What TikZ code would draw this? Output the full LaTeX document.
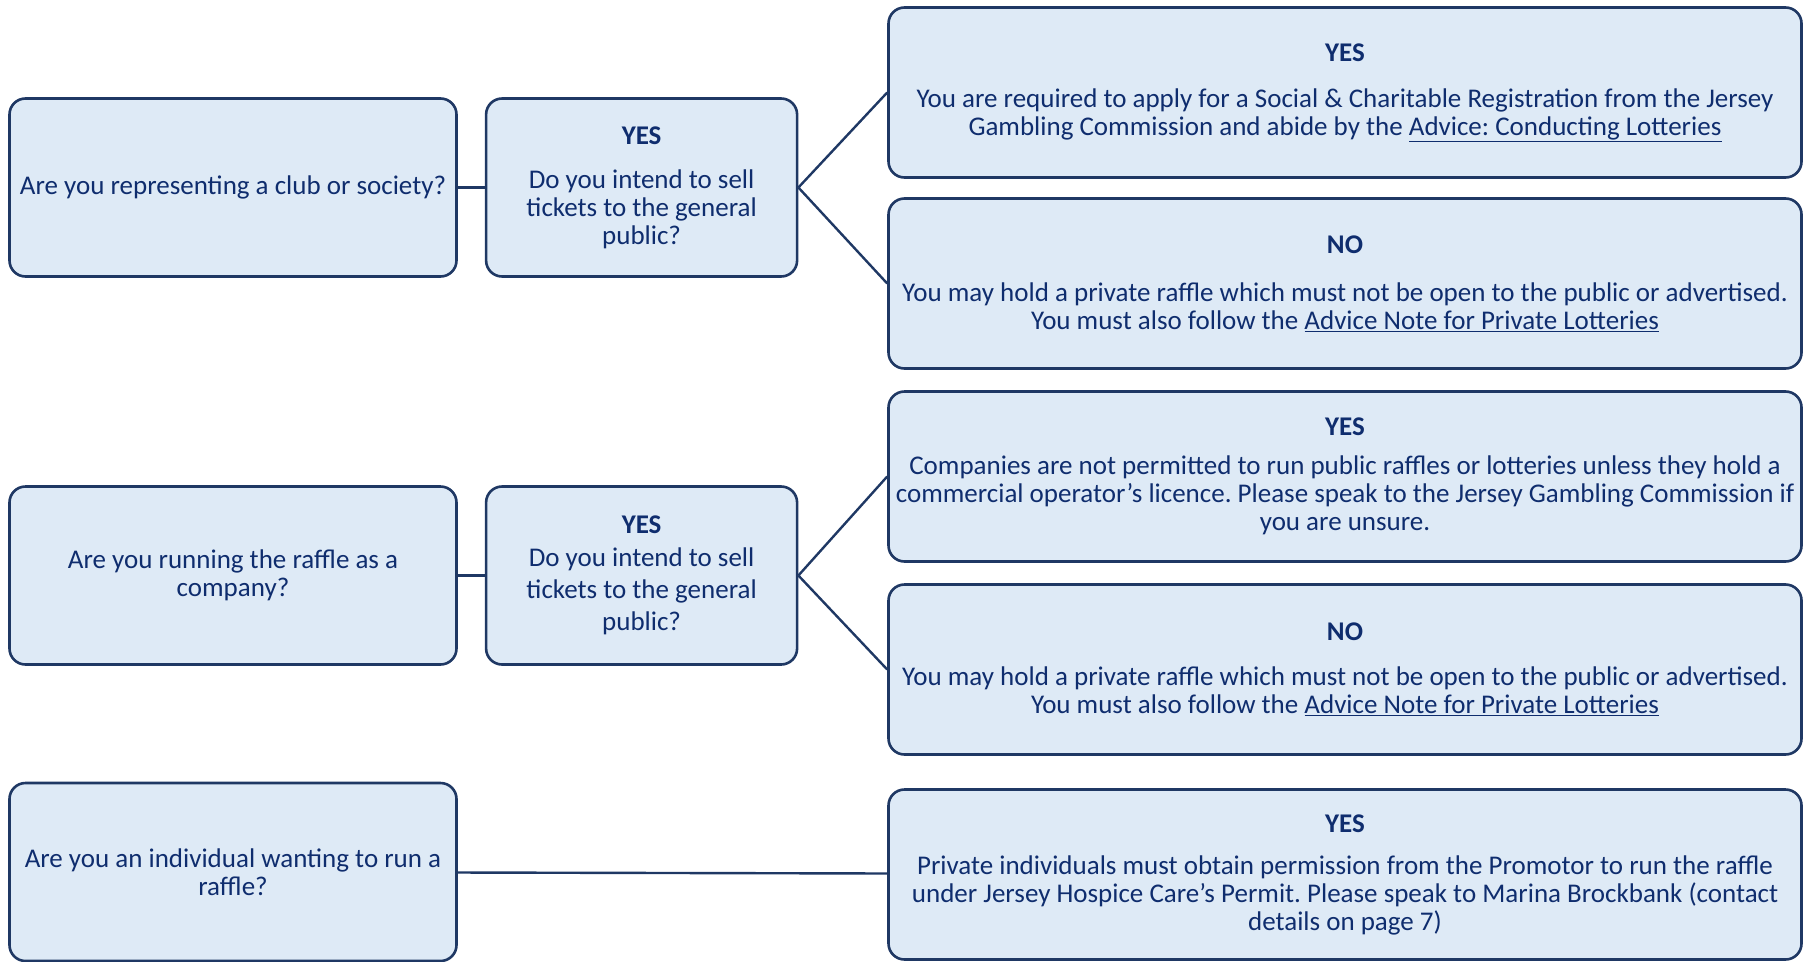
\documentclass[tikz,border=0pt]{standalone}
\usepackage{fontspec}
\setmainfont{Carlito}
\usepackage{xcolor}
\usetikzlibrary{positioning}

\definecolor{navyline}{HTML}{1F3864}
\definecolor{paleblue}{HTML}{DEEAF6}
\definecolor{navytext}{HTML}{0F2D6E}
\frenchspacing

\begin{document}
\begin{tikzpicture}[
	x=1pt,y=-1pt,
	node distance=27pt,
	box/.style={
		rectangle,
		rounded corners=16pt,
		draw=navyline,
		line width=2.6pt,
		fill=paleblue,
		text=navytext,
		align=center,
		inner sep=0pt,
		font=\fontsize{27}{28}\selectfont
	},
	question/.style={box,minimum width=447pt,minimum height=178pt},
	intend/.style={box,minimum width=311pt,minimum height=178pt},
	answer/.style={box,minimum width=913pt,minimum height=170pt},
	link/.style={navyline,line width=2.4pt}
	]
	\useasboundingbox (0,0) rectangle (1811,961);
	
	% club or society
	\node[question] (club) at (233,187.5) {Are you representing a club or society?};
	\node[intend] (sellA) [right=of club] {\textbf{YES}\\[16pt]Do you intend to sell\\tickets to the general\\public?};
	\node[answer] (regist) at (1345,92.5) {\textbf{YES}\\[18pt]You are required to apply for a Social \& Charitable Registration from the Jersey\\Gambling Commission and abide by the \underline{Advice: Conducting Lotteries}};
	\node[answer] (privA) at (1345,283.5) {\textbf{NO}\\[20pt]You may hold a private raffle which must not be open to the public or advertised.\\You must also follow the \underline{Advice Note for Private Lotteries}};
	
	% company
	\node[question] (company) at (233,575.5) {Are you running the raffle as a\\company?};
	\node[intend] (sellB) [right=of company] {\textbf{YES}\\[5pt]Do you intend to sell\\[4pt]tickets to the general\\[4pt]public?};
	\node[answer] (licence) at (1345,476.5) {\textbf{YES}\\[11pt]Companies are not permitted to run public raffles or lotteries unless they hold a\\commercial operator’s licence. Please speak to the Jersey Gambling Commission if\\you are unsure.};
	\node[answer] (privB) at (1345,669.5) {\textbf{NO}\\[17pt]You may hold a private raffle which must not be open to the public or advertised.\\You must also follow the \underline{Advice Note for Private Lotteries}};
	
	% individual
	\node[question] (single) at (233,872) {Are you an individual wanting to run a\\raffle?};
	\node[answer] (permit) at (1345,874.5) {\textbf{YES}\\[14pt]Private individuals must obtain permission from the Promotor to run the raffle\\under Jersey Hospice Care’s Permit. Please speak to Marina Brockbank (contact\\details on page 7)};
	
	\draw[link] (club) -- (sellA);
	\draw[link] (sellA.east) -- (regist.west);
	\draw[link] (sellA.east) -- (privA.west);
	\draw[link] (company) -- (sellB);
	\draw[link] (sellB.east) -- (licence.west);
	\draw[link] (sellB.east) -- (privB.west);
	\draw[link] (single) -- (permit);
\end{tikzpicture}
\end{document}
